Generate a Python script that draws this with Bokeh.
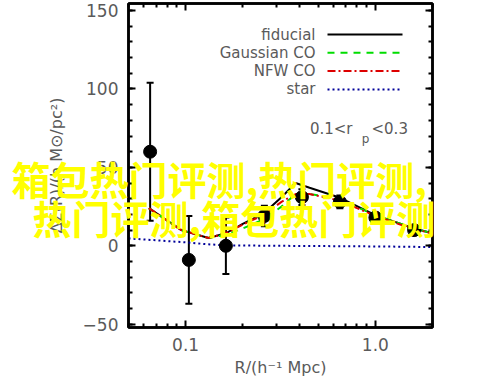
import math
from bokeh.plotting import figure
from bokeh.layouts import column
from bokeh.models import (LinearAxis, LogAxis, Range1d, FixedTicker, SingleIntervalTicker,
                          PrintfTickFormatter, CustomJSTickFormatter, Whisker,
                          ColumnDataSource, Label, TeeHead)
from bokeh.embed import file_html
from bokeh.resources import INLINE

# ---------------- data ----------------
r_data = [0.065, 0.104, 0.163, 0.26, 0.41, 0.65, 1.0, 1.6]
ds_data = [60, -9, 0, 19, 31, 28, 18, 10]
ds_err = [44, 28, 18, 6.5, 5, 4, 3, 3]

r_model = [0.064, 0.095, 0.132, 0.163, 0.20, 0.26, 0.32, 0.38, 0.45, 0.64, 1.0, 1.6, 2.0]
fiducial = [24, 10, 5, 8, 14, 21, 31, 40, 37, 31, 19.5, 11, 8]
gaussian_co = [24, 10, 5, 7, 11, 17, 25, 33, 33, 30, 19.5, 11, 8]
nfw_co = [24, 10, 5, 8, 13.5, 20, 28, 33, 33, 29, 19, 10.5, 8]

r_star = [0.05, 0.07, 0.10, 0.13, 0.16, 0.3, 1.0, 2.0]
star = [4.7, 3.5, 2.2, 1.0, 0.3, 0.0, -0.4, -0.8]

legend_labels = ["fiducial", "Gaussian CO", "NFW CO", "star"]
x_major_ticks = [0.1, 1.0]
x_minor_ticks = [0.05, 0.06, 0.07, 0.08, 0.09, 0.2, 0.3, 0.4, 0.5, 0.6, 0.7, 0.8, 0.9, 2.0]
watermark = ["箱包热门评测,热门评测,", "热门评测,箱包热门评测"]

# ---------------- layout ----------------
X0, X1 = 0.05, 2.0
Y0, Y1 = -52.1, 154.5
W, H = 500, 382
FL, FR, FT, FB = 128, 432, 3, 327   # frame edges in picture pixels


def px2x(px):
    f = (px - FL) / (FR - FL)
    return 10 ** (math.log10(X0) + f * math.log10(X1 / X0))


def py2y(py):
    f = (py - FT) / (FB - FT)
    return Y1 - f * (Y1 - Y0)


p = figure(width=W, height=H, x_axis_type="log",
           x_range=Range1d(X0, X1), y_range=Range1d(Y0, Y1),
           output_backend="svg", toolbar_location=None,
           min_border_left=FL, min_border_right=W - FR,
           min_border_top=FT, min_border_bottom=H - FB, margin=0)
p.grid.visible = False
p.outline_line_color = "black"
p.outline_line_width = 2.5
p.background_fill_color = "white"
p.border_fill_color = "white"

GREY = "#5a5a5a"
FONT = "DejaVu Sans"

xt = FixedTicker(ticks=x_major_ticks, minor_ticks=x_minor_ticks)
yt = SingleIntervalTicker(interval=50, num_minor_ticks=5)
blank = CustomJSTickFormatter(code="return ''")


def style_axis(ax, labels=True):
    ax.axis_line_color = "black"
    ax.axis_line_width = 2.5
    ax.major_tick_in = 7
    ax.major_tick_out = 0
    ax.minor_tick_in = 4
    ax.minor_tick_out = 0
    ax.major_tick_line_width = 2
    ax.minor_tick_line_width = 2
    ax.major_tick_line_color = "black"
    ax.minor_tick_line_color = "black"
    if labels:
        ax.major_label_text_font = FONT
        ax.major_label_text_font_size = "17px"
        ax.major_label_text_color = GREY
        ax.axis_label_text_font = FONT
        ax.axis_label_text_font_size = "16px"
        ax.axis_label_text_color = GREY
        ax.axis_label_text_font_style = "normal"
    else:
        ax.formatter = blank
        ax.major_label_standoff = 0


xa = p.xaxis[0]
xa.ticker = xt
xa.formatter = PrintfTickFormatter(format="%.1f")
style_axis(xa)
xa.major_label_standoff = 10
xa.axis_label = "R/(h⁻¹ Mpc)"
xa.axis_label_standoff = 4

ya = p.yaxis[0]
ya.ticker = yt
style_axis(ya)
ya.major_label_standoff = 10
ya.axis_label = "ΔΣ(R)/(h M⊙/pc²)"
ya.axis_label_standoff = 14

top = LogAxis(ticker=xt)
style_axis(top, labels=False)
p.add_layout(top, "above")
right = LinearAxis(ticker=yt)
style_axis(right, labels=False)
p.add_layout(right, "right")

# ---------------- curves ----------------
styles = [
    dict(line_color="black", line_width=2),
    dict(line_color="#00dd00", line_width=2, line_dash="7 6"),
    dict(line_color="#dd0000", line_width=2, line_dash="8 3 2 3"),
    dict(line_color="#000099", line_width=2, line_dash="2 3"),
]
p.line(r_star, star, **styles[3])
p.line(r_model, fiducial, **styles[0])
p.line(r_model, gaussian_co, **styles[1])
p.line(r_model, nfw_co, **styles[2])

# ---------------- data points ----------------
src = ColumnDataSource(dict(
    x=r_data, y=ds_data,
    upper=[v + e for v, e in zip(ds_data, ds_err)],
    lower=[v - e for v, e in zip(ds_data, ds_err)],
))
p.add_layout(Whisker(source=src, base="x", upper="upper", lower="lower",
                     line_color="black", line_width=2,
                     upper_head=TeeHead(size=7, line_width=2, line_color="black"),
                     lower_head=TeeHead(size=7, line_width=2, line_color="black")))
p.scatter("x", "y", source=src, size=13, color="black")

# ---------------- legend ----------------
for i, (lab, st) in enumerate(zip(legend_labels, styles)):
    yrow = 34 + 18.3 * i
    p.add_layout(Label(x=px2x(315), y=py2y(yrow), text=lab, text_align="right",
                       text_baseline="middle", text_font=FONT,
                       text_font_size="15px", text_color=GREY))
    p.line([px2x(327), px2x(402)], [py2y(yrow), py2y(yrow)], **st)

# bin annotation 0.1<r_p<0.3
p.add_layout(Label(x=px2x(352), y=py2y(128), text="0.1<r", text_align="right",
                   text_baseline="middle", text_font=FONT,
                   text_font_size="15px", text_color=GREY))
p.add_layout(Label(x=px2x(365), y=py2y(138), text="p", text_align="center",
                   text_baseline="middle", text_font=FONT,
                   text_font_size="12px", text_color=GREY))
p.add_layout(Label(x=px2x(371), y=py2y(128), text="<0.3", text_align="left",
                   text_baseline="middle", text_font=FONT,
                   text_font_size="15px", text_color=GREY))

# ---------------- watermark overlay (transparent full-canvas figure on top) ----------------
ov = figure(width=W, height=H, x_range=Range1d(0, W), y_range=Range1d(H, 0),
            x_axis_location=None, y_axis_location=None,
            output_backend="svg", toolbar_location=None,
            min_border_left=0, min_border_right=0, min_border_top=0, min_border_bottom=0,
            margin=(-H, 0, 0, 0))
ov.grid.visible = False
ov.outline_line_color = None
ov.background_fill_alpha = 0
ov.border_fill_alpha = 0
for fig in (p, ov):
    try:
        fig.frame_align = False
    except Exception:
        pass
for txt, (lx, ly) in zip(watermark, [(11, 177), (32, 216)]):
    ov.add_layout(Label(x=lx, y=ly, text=txt, text_align="left",
                        text_baseline="middle", text_font="Noto Sans CJK SC",
                        text_font_style="bold", text_font_size="39px",
                        text_color="#ffff00"))

layout = column(p, ov, spacing=0)
open("out.html", "w").write(file_html(layout, INLINE))
